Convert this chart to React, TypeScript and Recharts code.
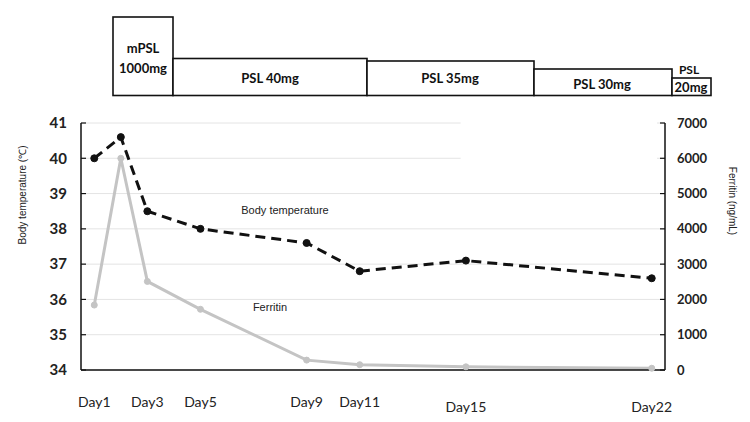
import { LineChart, Line, XAxis, YAxis, CartesianGrid, ReferenceArea } from 'recharts';

const days = [1, 2, 3, 5, 9, 11, 15, 22];
const bodyTemp = [40.0, 40.6, 38.5, 38.0, 37.6, 36.8, 37.1, 36.6];
const ferritin = [1840, 6000, 2510, 1720, 280, 150, 90, 50];

const dayTicks = [1, 3, 5, 9, 11, 15, 22];
const tempTicks = [34, 35, 36, 37, 38, 39, 40, 41];
const ferritinTicks = [0, 1000, 2000, 3000, 4000, 5000, 6000, 7000];

const treatments = ['mPSL 1000mg', 'PSL 40mg', 'PSL 35mg', 'PSL 30mg', 'PSL 20mg'];

// drawn treatment boxes above the plot (pixel layout)
const boxLayout = [
  { x0: 113, x1: 173, top: 17 },
  { x0: 173, x1: 367, top: 58.5 },
  { x0: 367, x1: 534, top: 61 },
  { x0: 534, x1: 672, top: 69 },
  { x0: 672, x1: 711, top: 78 },
];
const BOX_BOTTOM = 95.5;

const data = days.map((d, i) => ({ day: d, temp: bodyTemp[i], ferritin: ferritin[i] }));

const CALIBRI = 'Lato, "Open Sans", sans-serif';
const ARIAL = '"Liberation Sans", Arial, sans-serif';

// the last two day labels sit a bit lower in the original
const tickDrop: Record<number, number> = { 15: 5, 22: 5 };

function DayTick({ x, y, payload }: any) {
  return (
    <text
      x={x}
      y={y + (tickDrop[payload.value] ?? 0)}
      dy="0.71em"
      textAnchor="middle"
      fontFamily={CALIBRI}
      fontSize={14}
      fill="#222"
    >
      {`Day${payload.value}`}
    </text>
  );
}

function TreatmentBoxes() {
  const [mpsl, psl40, psl35, psl30, psl20] = treatments;
  const [mpslA, mpslB] = mpsl.split(' ');
  const [psl20A, psl20B] = psl20.split(' ');
  const txt = { fontFamily: CALIBRI, fontWeight: 700, fontSize: 13, fill: '#111', textAnchor: 'middle' as const, dominantBaseline: 'central' as const };
  return (
    <svg width={750} height={422} style={{ position: 'absolute', left: 0, top: 0, pointerEvents: 'none' }}>
      {boxLayout.map((b, i) => (
        <rect
          key={i}
          x={b.x0}
          y={b.top}
          width={b.x1 - b.x0}
          height={BOX_BOTTOM - b.top}
          fill="#fff"
          stroke="#111"
          strokeWidth={1.6}
        />
      ))}
      <text x={143} y={48} {...txt}>{mpslA}</text>
      <text x={143} y={68} {...txt}>{mpslB}</text>
      <text x={270} y={78} {...txt}>{psl40}</text>
      <text x={450} y={78} {...txt}>{psl35}</text>
      <text x={602} y={84} {...txt}>{psl30}</text>
      <text x={689} y={69} {...txt} fontSize={12}>{psl20A}</text>
      <text x={691} y={87} {...txt}>{psl20B}</text>

      <text x={285} y={210} fontFamily={ARIAL} fontSize={11} fill="#222" textAnchor="middle" dominantBaseline="central">
        Body temperature
      </text>
      <text x={270} y={307} fontFamily={ARIAL} fontSize={11} fill="#222" textAnchor="middle" dominantBaseline="central">
        Ferritin
      </text>

      <text
        transform="translate(22,195) rotate(-90)"
        fontFamily={ARIAL}
        fontSize={10}
        fill="#222"
        textAnchor="middle"
        dominantBaseline="central"
      >
        Body temperature (℃)
      </text>
      <text
        transform="translate(732,201) rotate(90)"
        fontFamily={ARIAL}
        fontSize={10}
        fill="#222"
        textAnchor="middle"
        dominantBaseline="central"
      >
        Ferritin (ng/mL)
      </text>
    </svg>
  );
}

export default function App() {
  return (
    <div style={{ position: 'relative', width: 750, height: 422, background: '#fff' }}>
      <style>{'body{margin:0}'}</style>
      <LineChart width={750} height={422} data={data} margin={{ top: 123, right: 25, bottom: 12, left: 21 }}>
        <CartesianGrid vertical={false} stroke="#e4e4e4" strokeWidth={1} />
        <ReferenceArea
          x1={14.8}
          x2={22.2}
          y1={39.5}
          y2={41.1}
          fill="#fff"
          fillOpacity={1}
          stroke="none"
          ifOverflow="visible"
        />
        <XAxis
          dataKey="day"
          type="number"
          domain={[0.5, 22.5]}
          ticks={dayTicks}
          interval={0}
          height={40}
          tickLine={false}
          tickSize={0}
          tickMargin={27}
          axisLine={{ stroke: '#111', strokeWidth: 1.5 }}
          tick={<DayTick />}
        />
        <YAxis
          domain={[34, 41]}
          ticks={tempTicks}
          interval={0}
          width={60}
          tickSize={-5}
          tickMargin={19}
          axisLine={{ stroke: '#111', strokeWidth: 1.5 }}
          tickLine={{ stroke: '#111', strokeWidth: 1.2 }}
          tick={{ fontFamily: CALIBRI, fontWeight: 700, fontSize: 15, fill: '#222' }}
        />
        <YAxis
          yAxisId="fer"
          orientation="right"
          domain={[0, 7000]}
          ticks={ferritinTicks}
          interval={0}
          width={60}
          tickSize={-5}
          tickMargin={17}
          axisLine={{ stroke: '#111', strokeWidth: 1.5 }}
          tickLine={{ stroke: '#111', strokeWidth: 1.2 }}
          tick={{ fontFamily: CALIBRI, fontWeight: 700, fontSize: 13, fill: '#222', textAnchor: 'start' }}
        />
        <Line
          yAxisId="fer"
          type="linear"
          dataKey="ferritin"
          stroke="#c4c4c4"
          strokeWidth={3}
          dot={{ r: 3, fill: '#c4c4c4', stroke: '#c4c4c4', strokeWidth: 1 }}
          isAnimationActive={false}
        />
        <Line
          type="linear"
          dataKey="temp"
          stroke="#111"
          strokeWidth={3}
          strokeDasharray="10 6"
          dot={{ r: 3.5, fill: '#111', stroke: '#111', strokeWidth: 1, strokeDasharray: '' }}
          isAnimationActive={false}
        />
      </LineChart>
      <TreatmentBoxes />
    </div>
  );
}
